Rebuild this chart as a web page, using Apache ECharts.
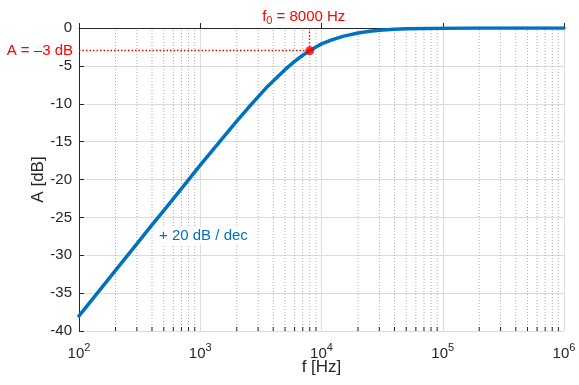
<!DOCTYPE html>
<html>
<head>
<meta charset="utf-8">
<script src="https://cdn.jsdelivr.net/npm/echarts@6/dist/echarts.min.js"></script>
<style>
  html, body { margin: 0; padding: 0; background: #fff; }
  #chart { width: 579px; height: 385px; }
</style>
</head>
<body>
<div id="chart"></div>
<script>
// values
const freqHz = [100, 150, 200, 300, 400, 500, 700, 1000, 1500, 2000, 2500, 3000, 3500, 4000, 4500, 5000, 6000, 7000, 8000, 9000, 10000, 12000, 15000, 20000, 25000, 30000, 40000, 50000, 70000, 100000, 200000, 1000000];
const gainDb = [-38.0, -34.5, -32.0, -28.5, -26.0, -24.1, -21.2, -18.1, -14.7, -12.3, -10.5, -9.1, -7.9, -7.0, -6.2, -5.5, -4.4, -3.6, -3.0, -2.5, -2.1, -1.6, -1.1, -0.65, -0.42, -0.3, -0.17, -0.1, -0.05, -0.03, -0.01, 0];

const cutoffHz = 8000;
const cutoffDb = -3;

const xTickExponents = ['2', '3', '4', '5', '6'];
const minorTicksHz = [
  200, 300, 400, 500, 600, 700, 800, 900,
  2000, 3000, 4000, 5000, 6000, 7000, 8000, 9000,
  20000, 30000, 40000, 50000, 60000, 70000, 80000, 90000,
  200000, 300000, 400000, 500000, 600000, 700000, 800000, 900000
];

const yMin = -40;
const yMax = 0;

const textColor = '#262626';
const font = 'Liberation Sans, Arial, Helvetica, sans-serif';

const chart = echarts.init(document.getElementById('chart'), null, { renderer: 'canvas' });

chart.setOption({
  backgroundColor: '#fff',
  animation: false,
  textStyle: { fontFamily: font },
  grid: {
    left: 79,
    right: 15,
    top: 28,
    bottom: 54,
    containLabel: false,
    outerBoundsMode: 'none'
  },
  xAxis: {
    type: 'log',
    logBase: 10,
    min: 100,
    max: 1000000,
    name: 'f [Hz]',
    nameLocation: 'middle',
    nameGap: 28,
    nameMoveOverlap: false,
    nameTextStyle: { color: textColor, fontSize: 17, fontFamily: font },
    axisLine: { lineStyle: { color: textColor, width: 1 } },
    axisTick: { inside: true, length: 5, lineStyle: { color: textColor } },
    axisLabel: {
      color: textColor,
      margin: 11,
      formatter: (v) => {
        const i = Math.round(Math.log10(v)) - 2;
        return '{b|10}{sup|' + xTickExponents[i] + '}';
      },
      rich: {
        b: { fontSize: 15, fontFamily: font, color: textColor, verticalAlign: 'bottom' },
        sup: { fontSize: 11, fontFamily: font, color: textColor, verticalAlign: 'top', padding: [0, 0, 8, 0] }
      }
    },
    splitLine: { show: true, lineStyle: { color: '#dcdcdc', width: 1 } }
  },
  yAxis: {
    type: 'value',
    min: yMin,
    max: yMax,
    interval: 5,
    name: 'A [dB]',
    nameLocation: 'middle',
    nameGap: 32,
    nameRotate: 90,
    nameMoveOverlap: false,
    nameTextStyle: { color: textColor, fontSize: 17, fontFamily: font },
    axisLine: { show: true, lineStyle: { color: textColor, width: 1 } },
    axisTick: { show: true, inside: true, length: 5, lineStyle: { color: textColor } },
    axisLabel: { color: textColor, fontSize: 15, fontFamily: font, margin: 7 },
    splitLine: { show: true, lineStyle: { color: '#dcdcdc', width: 1 } }
  },
  series: [
    {
      // minor grid (dotted) and minor ticks on the log axis
      type: 'custom',
      silent: true,
      z: 1,
      data: minorTicksHz.map((f) => [f, yMin]),
      encode: { x: 0, y: 1 },
      renderItem: (params, api) => {
        const bottom = api.coord([api.value(0), yMin]);
        const top = api.coord([api.value(0), yMax]);
        return {
          type: 'group',
          children: [
            {
              type: 'line',
              shape: { x1: bottom[0], y1: bottom[1], x2: top[0], y2: top[1] },
              style: { stroke: '#aaaaaa', lineWidth: 1, lineDash: [1, 2] }
            },
            {
              type: 'line',
              shape: { x1: bottom[0], y1: bottom[1], x2: bottom[0], y2: bottom[1] - 4 },
              style: { stroke: textColor, lineWidth: 1 }
            }
          ]
        };
      }
    },
    {
      type: 'line',
      z: 3,
      data: freqHz.map((f, i) => [f, gainDb[i]]),
      showSymbol: false,
      smooth: false,
      lineStyle: { color: '#0072BD', width: 3.5, join: 'round', cap: 'round' },
      itemStyle: { color: '#0072BD' }
    },
    {
      type: 'scatter',
      z: 4,
      clip: false,
      data: [[cutoffHz, cutoffDb]],
      symbolSize: 9,
      itemStyle: { color: '#FF0000' },
      markLine: {
        silent: true,
        symbol: 'none',
        animation: false,
        lineStyle: { color: '#FF0000', type: [1.5, 2], width: 1.3 },
        data: [
          [
            {
              coord: [100, cutoffDb],
              label: {
                show: true,
                position: 'start',
                distance: 6,
                color: '#FF0000',
                fontSize: 15,
                fontFamily: font,
                formatter: 'A = \u20133 dB'
              }
            },
            { coord: [cutoffHz, cutoffDb] }
          ],
          [
            {
              coord: [cutoffHz, yMax],
              label: {
                show: true,
                position: 'start',
                distance: 2,
                color: '#FF0000',
                formatter: 'f{sub|0} = 8000 Hz',
                fontSize: 15,
                fontFamily: font,
                offset: [-6, 0],
                rich: {
                  sub: { fontSize: 11, fontFamily: font, color: '#FF0000', verticalAlign: 'bottom', padding: [8, 0, 0, 0] }
                }
              }
            },
            { coord: [cutoffHz, cutoffDb] }
          ]
        ]
      }
    }
  ],
  graphic: [
    {
      type: 'text',
      z: 5,
      left: 157,
      top: 227,
      style: {
        text: '+ 20 dB / dec',
        fill: '#0072BD',
        font: '15px ' + font,
        backgroundColor: '#fff',
        padding: [1, 2]
      }
    }
  ]
});
</script>
</body>
</html>
